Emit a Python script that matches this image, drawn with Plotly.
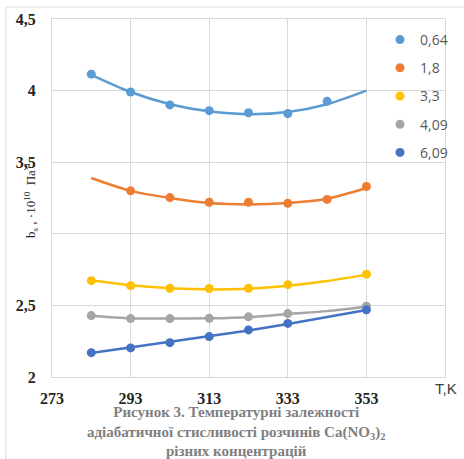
import plotly.graph_objects as go

# Temperatures, K
T = [283, 293, 303, 313, 323, 333, 343, 353]

series_names = ["0,64", "1,8", "3,3", "4,09", "6,09"]
colors = ["#5B9BD5", "#ED7D31", "#FFC000", "#A5A5A5", "#4472C4"]

# Measured points (None = no marker)
pts_064 = [4.115, 3.99, 3.90, 3.86, 3.845, 3.84, 3.925, None]
pts_18 = [None, 3.30, 3.253, 3.22, 3.22, 3.213, 3.24, 3.33]
pts_33 = [2.673, 2.638, 2.62, 2.618, 2.62, 2.645, None, 2.718]
pts_409 = [2.429, 2.408, 2.408, 2.41, 2.42, 2.443, None, 2.494]
pts_609 = [2.17, 2.203, 2.24, 2.282, 2.329, 2.374, None, 2.469]

# Trend curves
crv_064 = [4.11, 3.99, 3.905, 3.855, 3.835, 3.85, 3.905, 4.0]
crv_18 = [3.39, 3.30, 3.25, 3.215, 3.205, 3.215, 3.245, 3.32]
crv_33 = [2.675, 2.64, 2.62, 2.612, 2.617, 2.637, 2.67, 2.715]
crv_409 = [2.428, 2.41, 2.408, 2.41, 2.418, 2.44, 2.46, 2.49]
crv_609 = [2.168, 2.206, 2.245, 2.284, 2.325, 2.37, 2.418, 2.468]

x_ticks = [273, 293, 313, 333, 353]
y_ticks = [2, 2.5, 3, 3.5, 4, 4.5]
y_tick_text = ["2", "2,5", "", "3,5", "4", "4,5"]  # "3" is hidden behind the axis title

points = [pts_064, pts_18, pts_33, pts_409, pts_609]
curves = [crv_064, crv_18, crv_33, crv_409, crv_609]
shapes_line = ["spline", "spline", "spline", "spline", "linear"]

fig = go.Figure()
for name, col, crv, shp in zip(series_names, colors, curves, shapes_line):
    fig.add_trace(go.Scatter(x=T, y=crv, mode="lines", line=dict(color=col, width=2.5, shape=shp, smoothing=0.8),
                             showlegend=False, hoverinfo="skip"))
for i, (name, col, pts) in enumerate(zip(series_names, colors, points)):
    fig.add_trace(go.Scatter(x=T, y=pts, mode="markers", name=name, legendgroup=f"g{i}",
                             marker=dict(color=col, size=9)))

W, H = 464, 459
L, R, TOP, BOT = 52, 445, 19, 377
pw, ph = R - L, BOT - TOP

def px(xp):
    return (xp - L) / pw

def py(yp):
    return (BOT - yp) / ph

serif = "Liberation Serif"
fig.update_layout(
    width=W, height=H,
    margin=dict(l=L, r=W - R, t=TOP, b=H - BOT, autoexpand=False),
    paper_bgcolor="white", plot_bgcolor="white",
    separators=", ",
    showlegend=True,
    legend=dict(x=px(380), y=py(24), xanchor="left", yanchor="top",
                font=dict(family="Open Sans", size=14, color="#595959"),
                bgcolor="rgba(0,0,0,0)", tracegroupgap=7, itemwidth=30),
    xaxis=dict(range=[273, 373], tickvals=x_ticks, ticktext=[str(v) for v in x_ticks],
               showgrid=True, gridcolor="#D9D9D9", gridwidth=1, zeroline=False,
               showline=True, mirror=True, linecolor="#D9D9D9", ticks="", automargin=False,
               tickfont=dict(family=serif, size=16, color="#262626", weight="bold"),
               ticklabelstandoff=7),
    yaxis=dict(range=[2, 4.5], tickvals=y_ticks, ticktext=y_tick_text, automargin=False,
               showgrid=True, gridcolor="#D9D9D9", gridwidth=1, zeroline=False,
               showline=True, mirror=True, linecolor="#D9D9D9", ticks="",
               tickfont=dict(family=serif, size=16, color="#262626", weight="bold"),
               ticklabelstandoff=12),
)

fig.add_annotation(xref="paper", yref="paper", x=px(459), y=py(399), text="T,K", showarrow=False,
                   font=dict(family="Liberation Sans", size=15, color="#404040"))
fig.add_annotation(xref="paper", yref="paper", x=px(20), y=py(201), textangle=-90,
                   text="b<sub>s</sub> , ·10<sup>10</sup>  Па<sup>-1</sup>", showarrow=False,
                   font=dict(family=serif, size=13, color="#262626"))
fig.add_annotation(xref="paper", yref="paper", x=px(236), y=py(402), yanchor="top",
                   text="Рисунок 3. Температурні залежності<br>адіабатичної стисливості розчинів Ca(NO<sub>3</sub>)<sub>2</sub><br>різних концентрацій",
                   showarrow=False, align="center",
                   font=dict(family=serif, size=15, color="#7F7F7F", weight="bold"))
fig.add_shape(type="rect", xref="paper", yref="paper", x0=px(6), x1=px(470), y0=py(470), y1=py(7),
              line=dict(color="#D9D9D9", width=1), layer="below")

fig.write_html("out.html", config={"displayModeBar": False},
               post_script="document.body.style.margin='0';document.body.style.overflow='hidden';")
